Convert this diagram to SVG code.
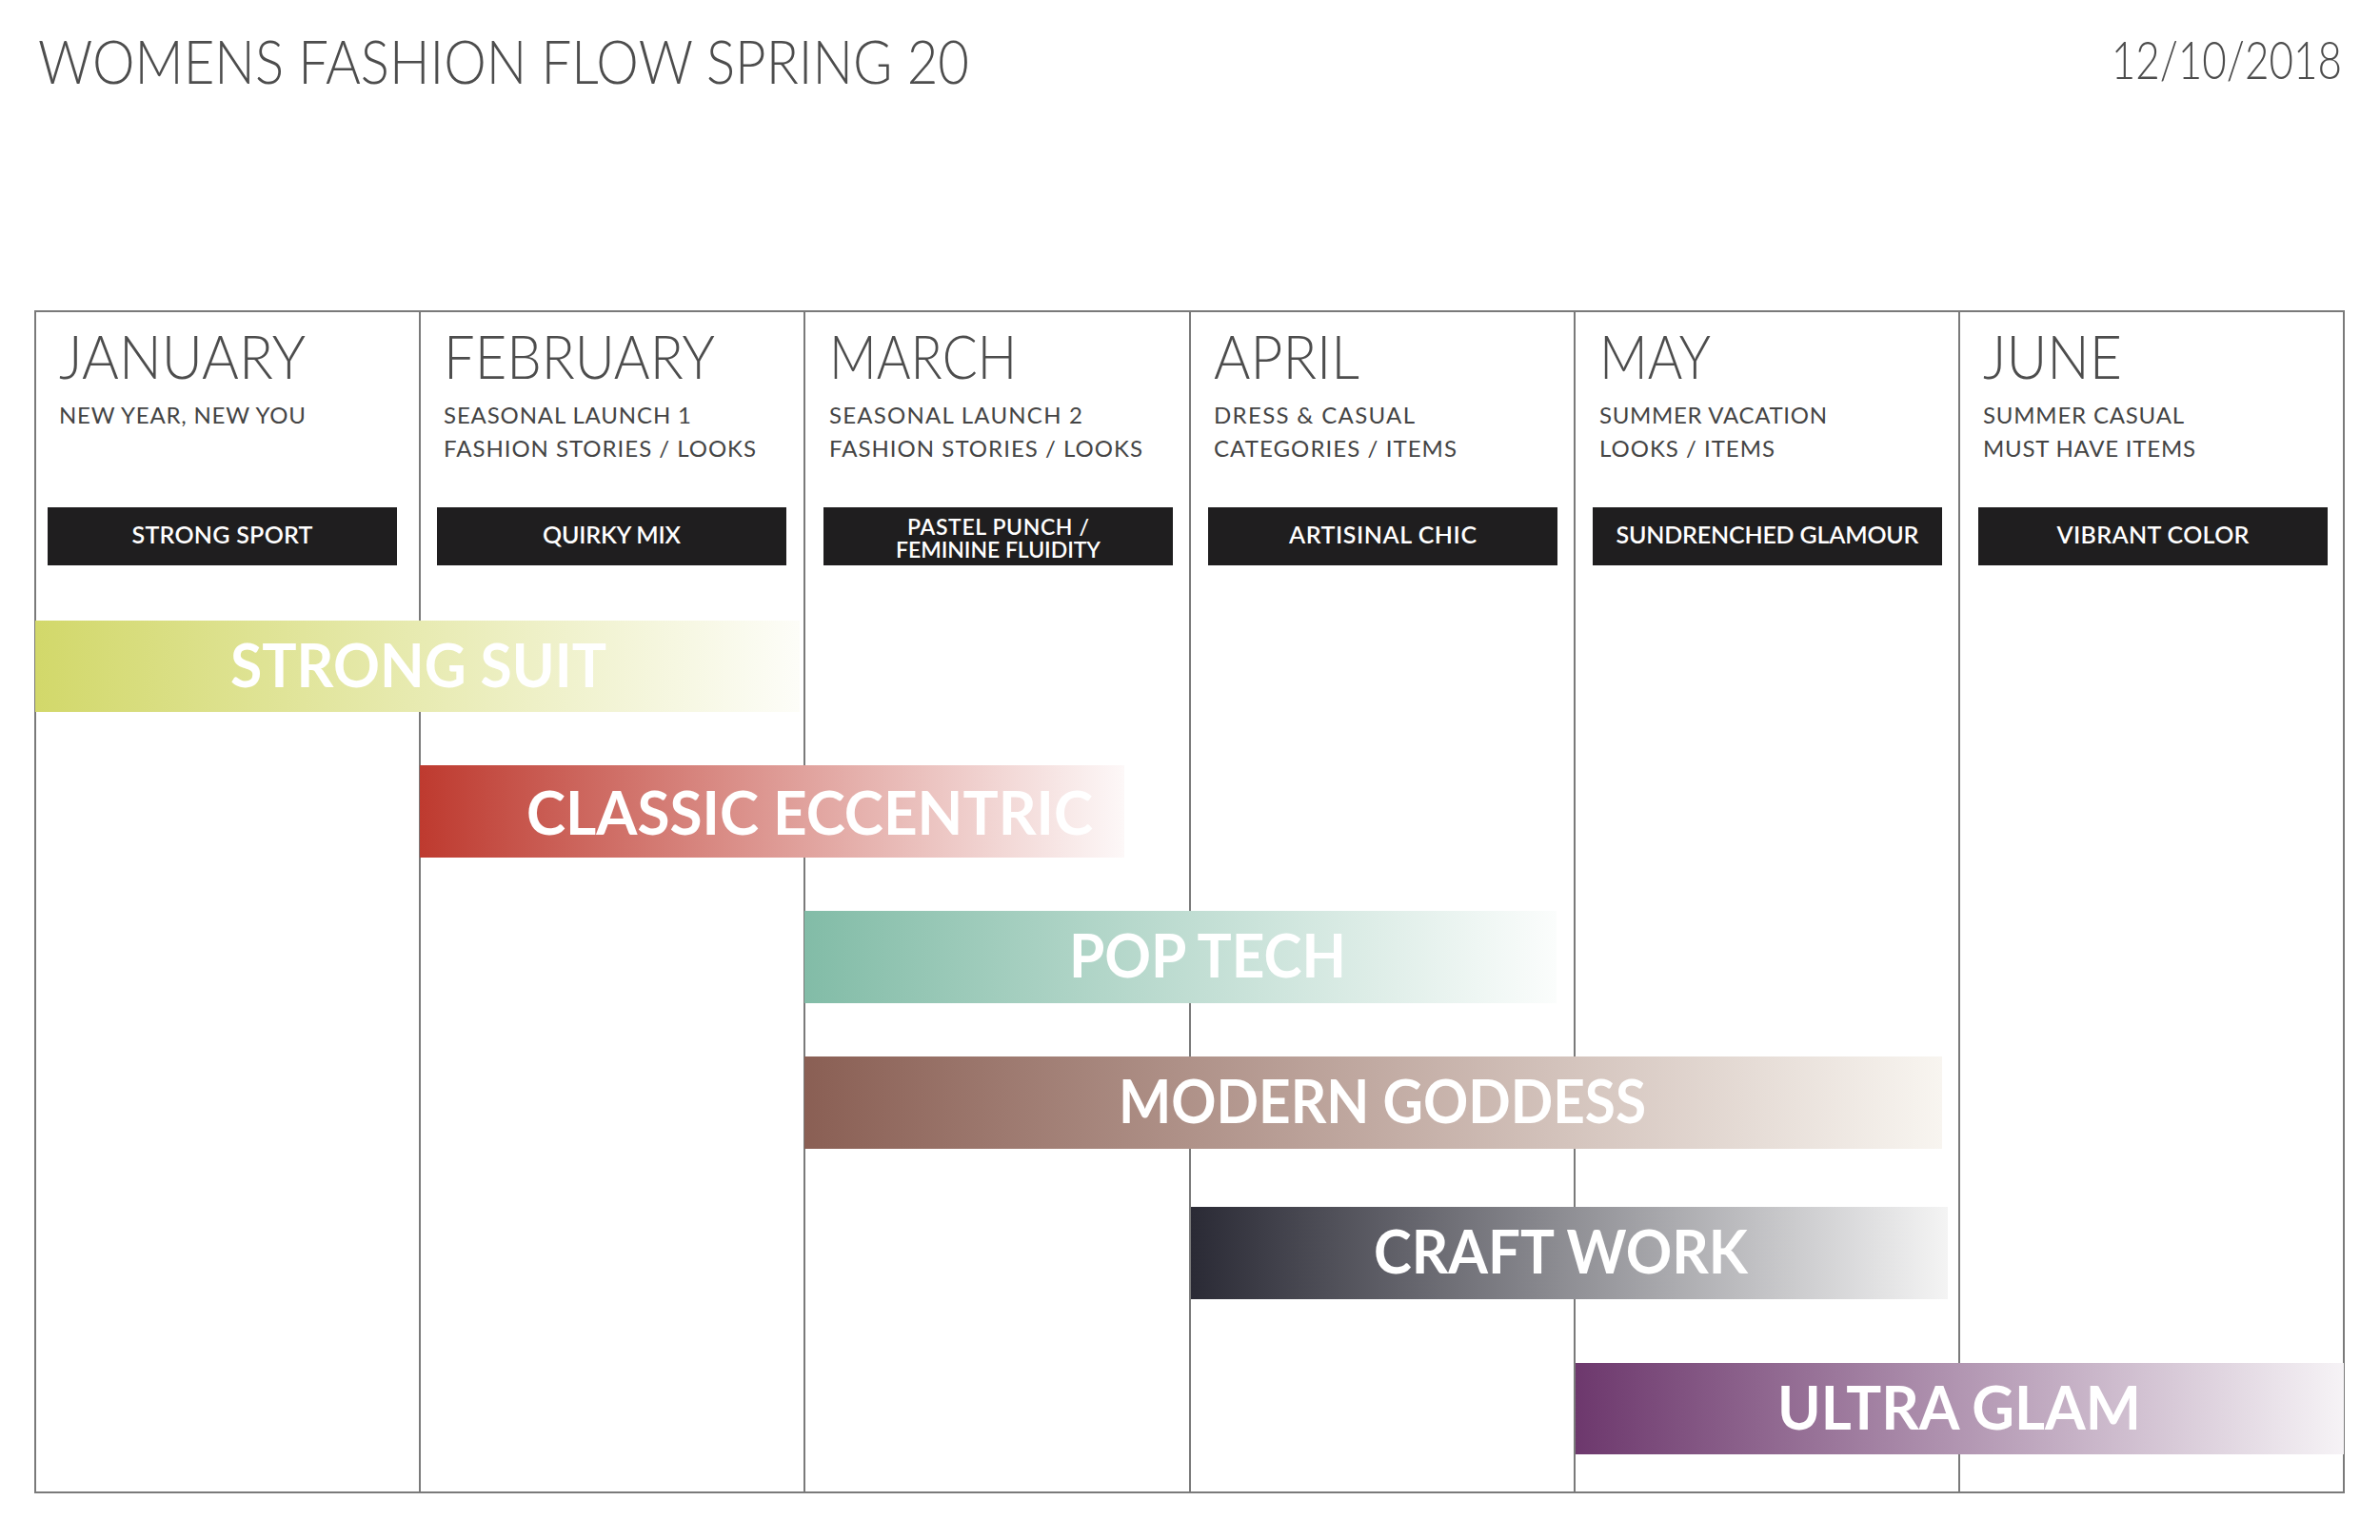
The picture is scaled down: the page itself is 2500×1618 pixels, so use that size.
<svg xmlns="http://www.w3.org/2000/svg" width="2500" height="1618" viewBox="0 0 2500 1618">
<style>
.title{font-family:"Lato","Open Sans","Liberation Sans",sans-serif;font-weight:300;font-size:64px;fill:#4d4d4d}
.date{font-family:"Lato","Open Sans","Liberation Sans",sans-serif;font-weight:300;font-size:44px;fill:#4d4d4d;text-anchor:end}
.month{font-family:"Lato","Open Sans","Liberation Sans",sans-serif;font-weight:300;font-size:63px;fill:#4d4d4d}
.sub{font-family:"Lato","Open Sans","Liberation Sans",sans-serif;font-weight:400;font-size:24px;fill:#444}
.box{fill:#1f1e1f}
.boxt{font-family:"Lato","Open Sans","Liberation Sans",sans-serif;font-weight:600;font-size:25px;fill:#fff;text-anchor:middle}
.boxt2{font-family:"Lato","Open Sans","Liberation Sans",sans-serif;font-weight:600;font-size:23px;fill:#fff;text-anchor:middle}
.bart{font-family:"Lato","Open Sans","Liberation Sans",sans-serif;font-weight:700;font-size:63px;fill:#fff}
.grid{stroke:#7a7a7a;stroke-width:2;fill:none}
</style>
<defs>
<linearGradient id="gSuit" x1="0" y1="0" x2="1" y2="0"><stop offset="0" stop-color="#d2d86a"/><stop offset="1" stop-color="#fdfdf8"/></linearGradient>
<linearGradient id="gEcc" x1="0" y1="0" x2="1" y2="0"><stop offset="0" stop-color="#be3a2f"/><stop offset="1" stop-color="#fdf8f8"/></linearGradient>
<linearGradient id="gPop" x1="0" y1="0" x2="1" y2="0"><stop offset="0" stop-color="#82bca7"/><stop offset="1" stop-color="#fbfdfc"/></linearGradient>
<linearGradient id="gGod" x1="0" y1="0" x2="1" y2="0"><stop offset="0" stop-color="#8a5f54"/><stop offset="1" stop-color="#f8f5f0"/></linearGradient>
<linearGradient id="gCraft" x1="0" y1="0" x2="1" y2="0"><stop offset="0" stop-color="#2a2a35"/><stop offset="1" stop-color="#f4f4f4"/></linearGradient>
<linearGradient id="gGlam" x1="0" y1="0" x2="1" y2="0"><stop offset="0" stop-color="#6d386d"/><stop offset="1" stop-color="#f6f3f6"/></linearGradient>
</defs>
<rect width="2500" height="1618" fill="#ffffff"/>

<g id="header">
<text class="title" x="40" y="88" textLength="978" lengthAdjust="spacingAndGlyphs">WOMENS FASHION FLOW SPRING 20</text>
<text class="date" x="0" y="0" transform="translate(2460,83) scale(1,1.26)">12/10/2018</text>
</g>

<g id="grid">
<rect class="grid" x="37" y="327" width="2425" height="1241"/>
<line class="grid" x1="441" y1="327" x2="441" y2="1568"/>
<line class="grid" x1="845" y1="327" x2="845" y2="1568"/>
<line class="grid" x1="1250" y1="327" x2="1250" y2="1568"/>
<line class="grid" x1="1654" y1="327" x2="1654" y2="1568"/>
<line class="grid" x1="2058" y1="327" x2="2058" y2="1568"/>
</g>

<g id="col-january">
<text class="month" x="62" y="398" textLength="259" lengthAdjust="spacingAndGlyphs">JANUARY</text>
<text class="sub" x="62" y="445" textLength="259">NEW YEAR, NEW YOU</text>
<rect class="box" x="50" y="533" width="367" height="61"/>
<text class="boxt" x="233.5" y="571" textLength="190">STRONG SPORT</text>
</g>
<g id="col-february">
<text class="month" x="466" y="398" textLength="285" lengthAdjust="spacingAndGlyphs">FEBRUARY</text>
<text class="sub" x="466" y="445" textLength="260">SEASONAL LAUNCH 1</text>
<text class="sub" x="466" y="480" textLength="328">FASHION STORIES / LOOKS</text>
<rect class="box" x="459" y="533" width="367" height="61"/>
<text class="boxt" x="642.5" y="571" textLength="145">QUIRKY MIX</text>
</g>
<g id="col-march">
<text class="month" x="871" y="398" textLength="197" lengthAdjust="spacingAndGlyphs">MARCH</text>
<text class="sub" x="871" y="445" textLength="266">SEASONAL LAUNCH 2</text>
<text class="sub" x="871" y="480" textLength="329">FASHION STORIES / LOOKS</text>
<rect class="box" x="865" y="533" width="367" height="61"/>
<text class="boxt2" x="1048.5" y="562" textLength="191">PASTEL PUNCH /</text>
<text class="boxt2" x="1048.5" y="586" textLength="215">FEMININE FLUIDITY</text>
</g>
<g id="col-april">
<text class="month" x="1275" y="398" textLength="153" lengthAdjust="spacingAndGlyphs">APRIL</text>
<text class="sub" x="1275" y="445" textLength="211">DRESS &amp; CASUAL</text>
<text class="sub" x="1275" y="480" textLength="255">CATEGORIES / ITEMS</text>
<rect class="box" x="1269" y="533" width="367" height="61"/>
<text class="boxt" x="1452.5" y="571" textLength="197">ARTISINAL CHIC</text>
</g>
<g id="col-may">
<text class="month" x="1680" y="398" textLength="117" lengthAdjust="spacingAndGlyphs">MAY</text>
<text class="sub" x="1680" y="445" textLength="239">SUMMER VACATION</text>
<text class="sub" x="1680" y="480" textLength="184">LOOKS / ITEMS</text>
<rect class="box" x="1673" y="533" width="367" height="61"/>
<text class="boxt" x="1856.5" y="571" textLength="318">SUNDRENCHED GLAMOUR</text>
</g>
<g id="col-june">
<text class="month" x="2083" y="398" textLength="146" lengthAdjust="spacingAndGlyphs">JUNE</text>
<text class="sub" x="2083" y="445" textLength="211">SUMMER CASUAL</text>
<text class="sub" x="2083" y="480" textLength="223">MUST HAVE ITEMS</text>
<rect class="box" x="2078" y="533" width="367" height="61"/>
<text class="boxt" x="2261.5" y="571" textLength="202">VIBRANT COLOR</text>
</g>

<g id="bar-strong-suit">
<rect x="37" y="652" width="803" height="96" fill="url(#gSuit)"/>
<text class="bart" x="242" y="722" textLength="395" lengthAdjust="spacingAndGlyphs">STRONG SUIT</text>
</g>
<g id="bar-classic-eccentric">
<rect x="441" y="804" width="740" height="97" fill="url(#gEcc)"/>
<text class="bart" x="553" y="877" textLength="595" lengthAdjust="spacingAndGlyphs">CLASSIC ECCENTRIC</text>
</g>
<g id="bar-pop-tech">
<rect x="845" y="957" width="790" height="97" fill="url(#gPop)"/>
<text class="bart" x="1123" y="1027" textLength="291" lengthAdjust="spacingAndGlyphs">POP TECH</text>
</g>
<g id="bar-modern-goddess">
<rect x="845" y="1110" width="1195" height="97" fill="url(#gGod)"/>
<text class="bart" x="1175" y="1180" textLength="554" lengthAdjust="spacingAndGlyphs">MODERN GODDESS</text>
</g>
<g id="bar-craft-work">
<rect x="1251" y="1268" width="795" height="97" fill="url(#gCraft)"/>
<text class="bart" x="1443" y="1338" textLength="393" lengthAdjust="spacingAndGlyphs">CRAFT WORK</text>
</g>
<g id="bar-ultra-glam">
<rect x="1655" y="1432" width="807" height="96" fill="url(#gGlam)"/>
<text class="bart" x="1867" y="1502" textLength="382" lengthAdjust="spacingAndGlyphs">ULTRA GLAM</text>
</g>
</svg>
